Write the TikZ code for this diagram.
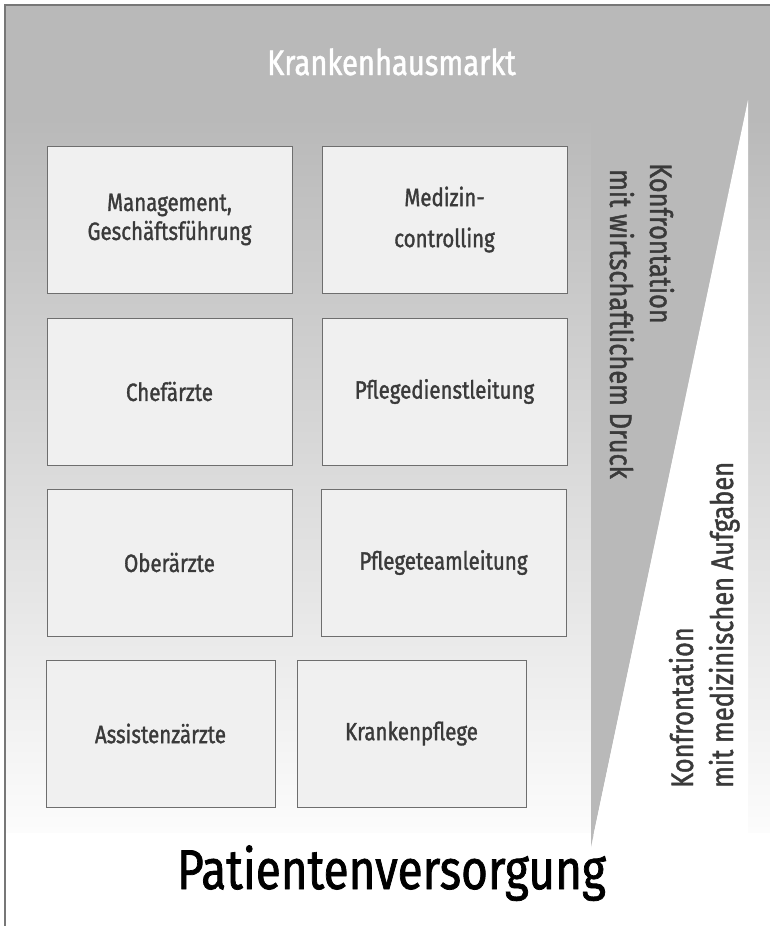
\documentclass[tikz,border=0pt]{standalone}
\usepackage{fontspec}
\setmainfont{Fira Sans}[FakeStretch=0.82, FakeBold=1.3]
\definecolor{bggray}{HTML}{B9B9B9}
\definecolor{bgend}{HTML}{FCFCFC}
\definecolor{framec}{HTML}{777777}
\definecolor{boxfill}{HTML}{F0F0F0}
\definecolor{boxline}{HTML}{6E6E6E}
\definecolor{txt}{HTML}{3A3A3A}
\begin{document}
\begin{tikzpicture}[x=1pt,y=-1pt,
  boxc/.style={draw=boxline, fill=boxfill, line width=1pt, minimum width=245pt, minimum height=147pt,
    inner sep=0pt, font=\fontsize{25}{29}\selectfont, text=txt, align=center},
  boxn/.style={boxc, minimum width=229pt},
  rot/.style={font=\fontsize{31}{40}\selectfont, text=txt, inner sep=0pt, anchor=base west}
]
\useasboundingbox (0,0) rectangle (770,926);
% background
\fill[white] (0,0) rectangle (770,926);
\fill[bggray] (5,5) rectangle (770,117);
\shade[top color=bggray, bottom color=bgend] (5,117) rectangle (770,832);
% triangles
\fill[bggray] (591,100) -- (748,100) -- (591,847) -- cycle;
\fill[white] (748,100) -- (748,835) -- (593.5,835) -- cycle;
% frame
\draw[framec, line width=2pt] (5,926) -- (5,5) -- (770,5);
% title
\node[font=\fontsize{35.5}{40}\selectfont, text=white, inner sep=0pt, anchor=base] (title) at (391.5,75) {Krankenhausmarkt};
% boxes
\node[boxc] (mgmt) at (169.5,219.5) {Management,\\Geschäftsführung};
\node[boxc] (medc) at (444.5,219.5) {Medizin-\\[12pt]controlling};
\node[boxc] (chef) at (169.5,391.5) {Chefärzte};
\node[boxc] (pdl) at (444.5,391.5) {Pflegedienstleitung};
\node[boxc] (ober) at (169.5,562.5) {Oberärzte};
\node[boxc] (ptl) at (443.5,562.5) {Pflegeteamleitung};
\node[boxn] (assi) at (160.5,733.5) {Assistenzärzte};
\node[boxn] (kpfl) at (411.5,733.5) {Krankenpflege};
% rotated labels
\node[rot, rotate=-90] (k1) at (650,163) {Konfrontation};
\node[rot, rotate=-90] (m1) at (610,169) {mit wirtschaftlichem Druck};
\node[rot, rotate=90] (k2) at (693,788) {Konfrontation};
\node[rot, rotate=90] (m2) at (733,788) {mit medizinischen Aufgaben};
% bottom
\node[font=\fontsize{56}{60}\selectfont, text=black, inner sep=0pt, anchor=base] (pat) at (391.5,889) {Patientenversorgung};
\end{tikzpicture}
\end{document}
